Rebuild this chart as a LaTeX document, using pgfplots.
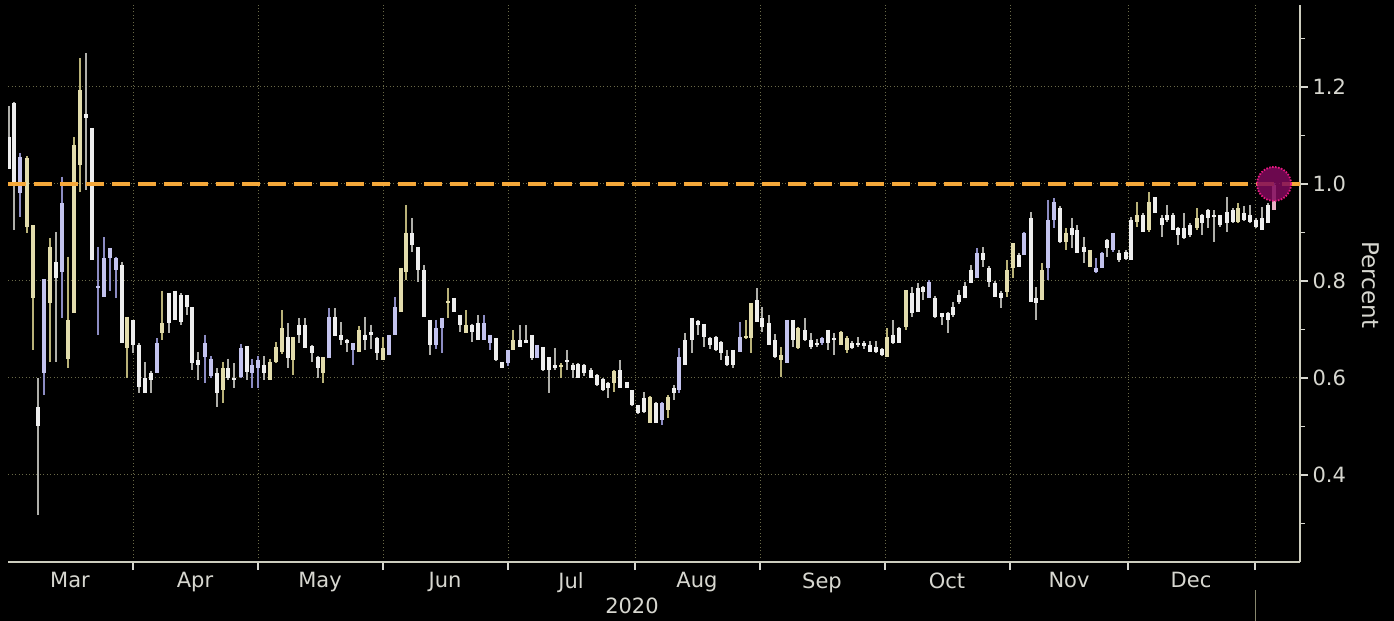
\documentclass[border=0pt]{standalone}
\usepackage{fontspec}
\setmainfont{DejaVu Sans}
\usepackage{pgfplots}
\usepackage{pgfplotstable}
\pgfplotsset{compat=1.18}

\definecolor{tickc}{RGB}{215,215,208}
\definecolor{axisc}{RGB}{205,205,190}
\definecolor{gridc}{RGB}{105,105,72}
\definecolor{orangeline}{RGB}{245,168,58}
\definecolor{body0}{RGB}{238,238,238}
\definecolor{wick0}{RGB}{175,175,170}
\definecolor{body1}{RGB}{226,220,172}
\definecolor{wick1}{RGB}{185,178,120}
\definecolor{body2}{RGB}{195,195,238}
\definecolor{wick2}{RGB}{140,140,195}
\definecolor{body3}{RGB}{235,175,195}
\definecolor{circfill}{RGB}{128,10,92}
\definecolor{circedge}{RGB}{235,25,130}

% x = position along the axis, h/l = high/low, bt/bb = body top/bottom, k = colour class
\pgfplotstableread{
x h l bt bb k
9 1.16 1.03 1.097 1.03 0
14 1.17 0.905 1.167 1.004 0
20 1.064 0.932 1.056 0.981 2
27 1.058 0.899 1.054 0.911 1
33 0.915 0.658 0.915 0.765 1
38 0.60 0.317 0.54 0.50 0
44 0.804 0.565 0.804 0.61 2
50 0.889 0.633 0.87 0.755 1
56 0.901 0.633 0.839 0.806 0
62 1.015 0.724 0.961 0.818 2
68 0.85 0.62 0.72 0.64 1
74 1.097 0.735 1.08 0.735 1
80 1.26 0.983 1.194 1.039 1
86 1.27 0.988 1.144 1.136 0
92 1.115 0.843 1.115 0.843 0
98 0.87 0.689 0.79 0.786 2
104 0.89 0.767 0.847 0.767 2
110 0.868 0.78 0.868 0.847 2
116 0.85 0.765 0.847 0.823 2
122 0.84 0.672 0.833 0.672 0
127 0.726 0.60 0.726 0.662 1
133 0.72 0.652 0.72 0.668 0
139 0.672 0.569 0.668 0.581 0
145 0.633 0.569 0.60 0.569 0
151 0.615 0.569 0.61 0.596 0
157 0.682 0.61 0.672 0.61 2
162 0.78 0.678 0.713 0.693 1
169 0.775 0.693 0.775 0.713 0
175 0.78 0.72 0.78 0.72 0
181 0.775 0.71 0.771 0.716 0
187 0.771 0.73 0.771 0.746 0
192 0.746 0.616 0.746 0.63 0
198 0.654 0.596 0.637 0.627 0
205 0.689 0.59 0.672 0.643 2
211 0.645 0.60 0.64 0.604 2
217 0.62 0.54 0.61 0.569 0
223 0.633 0.548 0.62 0.575 1
228 0.64 0.596 0.62 0.60 0
234 0.63 0.58 0.60 0.596 0
241 0.67 0.60 0.662 0.602 2
247 0.666 0.596 0.666 0.612 0
252 0.64 0.58 0.627 0.61 2
258 0.645 0.58 0.637 0.62 2
264 0.645 0.595 0.627 0.61 0
270 0.64 0.596 0.633 0.596 1
276 0.674 0.63 0.664 0.633 1
282 0.74 0.65 0.703 0.654 1
288 0.713 0.62 0.684 0.641 0
293 0.684 0.606 0.684 0.637 1
299 0.724 0.672 0.709 0.689 0
305 0.724 0.662 0.709 0.662 0
312 0.668 0.633 0.666 0.651 0
318 0.645 0.60 0.643 0.62 0
323 0.643 0.59 0.643 0.61 1
329 0.744 0.641 0.726 0.641 2
335 0.744 0.687 0.726 0.687 0
341 0.715 0.668 0.689 0.678 0
347 0.68 0.653 0.678 0.672 0
353 0.672 0.627 0.672 0.658 2
359 0.707 0.653 0.699 0.653 1
365 0.726 0.658 0.689 0.678 0
371 0.71 0.66 0.695 0.689 0
377 0.684 0.637 0.682 0.651 0
383 0.684 0.637 0.662 0.637 1
389 0.689 0.647 0.689 0.647 2
395 0.767 0.689 0.746 0.689 2
401 0.827 0.736 0.827 0.736 1
406 0.957 0.802 0.899 0.818 1
412 0.93 0.86 0.899 0.874 0
418 0.87 0.798 0.87 0.823 0
424 0.833 0.726 0.823 0.726 0
430 0.72 0.647 0.72 0.668 0
436 0.72 0.66 0.703 0.668 2
442 0.724 0.651 0.724 0.703 2
448 0.785 0.724 0.759 0.755 1
454 0.765 0.736 0.765 0.736 0
460 0.73 0.695 0.73 0.71 0
466 0.74 0.693 0.709 0.693 1
472 0.712 0.674 0.709 0.695 0
478 0.73 0.678 0.713 0.678 0
484 0.73 0.678 0.713 0.678 2
490 0.689 0.658 0.689 0.672 2
496 0.682 0.635 0.682 0.637 0
502 0.633 0.62 0.633 0.62 0
508 0.658 0.625 0.658 0.631 2
513 0.699 0.658 0.678 0.658 1
520 0.709 0.664 0.678 0.664 0
526 0.709 0.672 0.678 0.672 0
532 0.689 0.638 0.689 0.641 0
537 0.668 0.641 0.668 0.641 2
543 0.664 0.614 0.664 0.616 0
549 0.643 0.569 0.643 0.616 0
555 0.662 0.616 0.627 0.62 0
561 0.631 0.60 0.627 0.623 1
567 0.658 0.616 0.637 0.633 0
573 0.63 0.60 0.627 0.616 0
578 0.63 0.60 0.629 0.60 0
584 0.628 0.605 0.627 0.61 0
591 0.62 0.60 0.616 0.60 0
597 0.608 0.583 0.606 0.585 0
603 0.60 0.573 0.598 0.575 0
608 0.592 0.559 0.59 0.579 0
614 0.616 0.571 0.614 0.59 1
620 0.637 0.579 0.616 0.579 0
627 0.592 0.579 0.592 0.579 0
632 0.575 0.542 0.575 0.544 0
638 0.544 0.526 0.544 0.528 0
644 0.571 0.528 0.559 0.53 0
650 0.563 0.507 0.561 0.507 1
656 0.55 0.507 0.548 0.507 0
662 0.55 0.503 0.548 0.513 2
668 0.565 0.517 0.561 0.534 1
674 0.585 0.555 0.579 0.569 0
679 0.662 0.569 0.643 0.575 2
685 0.693 0.627 0.678 0.627 0
692 0.724 0.651 0.724 0.678 0
698 0.72 0.689 0.718 0.709 0
704 0.711 0.664 0.711 0.684 0
710 0.684 0.66 0.682 0.668 0
716 0.686 0.655 0.684 0.658 0
721 0.676 0.637 0.674 0.651 0
727 0.658 0.625 0.645 0.627 0
733 0.658 0.62 0.658 0.627 0
740 0.715 0.653 0.684 0.653 2
746 0.72 0.68 0.686 0.682 1
751 0.755 0.651 0.755 0.682 1
757 0.785 0.715 0.761 0.715 0
762 0.746 0.695 0.724 0.705 0
769 0.73 0.668 0.713 0.668 0
775 0.69 0.641 0.678 0.643 0
781 0.664 0.602 0.647 0.637 1
787 0.72 0.631 0.72 0.631 2
793 0.72 0.664 0.72 0.678 0
798 0.705 0.66 0.703 0.662 1
805 0.724 0.676 0.699 0.678 0
811 0.693 0.66 0.678 0.664 0
817 0.68 0.664 0.672 0.668 0
822 0.685 0.668 0.682 0.672 2
828 0.699 0.658 0.699 0.672 0
834 0.693 0.647 0.682 0.678 0
841 0.697 0.668 0.695 0.668 1
847 0.686 0.651 0.682 0.658 1
852 0.676 0.66 0.672 0.662 0
858 0.684 0.664 0.672 0.668 0
864 0.676 0.66 0.672 0.666 0
870 0.676 0.653 0.668 0.653 0
876 0.676 0.651 0.664 0.653 0
882 0.662 0.645 0.66 0.647 0
887 0.703 0.643 0.684 0.643 1
893 0.72 0.67 0.689 0.672 0
899 0.705 0.672 0.703 0.672 0
906 0.781 0.699 0.781 0.705 1
912 0.788 0.726 0.775 0.734 0
918 0.796 0.736 0.785 0.736 0
923 0.79 0.761 0.788 0.777 0
929 0.802 0.765 0.798 0.765 2
935 0.77 0.724 0.765 0.726 0
942 0.734 0.709 0.734 0.726 0
948 0.736 0.693 0.734 0.72 0
953 0.757 0.726 0.746 0.73 0
959 0.781 0.752 0.771 0.757 0
965 0.798 0.765 0.79 0.765 0
971 0.833 0.796 0.823 0.796 0
977 0.868 0.806 0.858 0.806 2
983 0.87 0.829 0.858 0.843 0
989 0.83 0.788 0.827 0.798 0
995 0.80 0.767 0.796 0.767 0
1001 0.78 0.744 0.775 0.765 0
1007 0.843 0.767 0.823 0.777 1
1013 0.878 0.806 0.878 0.827 1
1019 0.857 0.829 0.854 0.829 0
1024 0.901 0.854 0.899 0.854 2
1031 0.942 0.757 0.93 0.757 0
1036 0.788 0.72 0.765 0.755 0
1042 0.837 0.761 0.823 0.761 1
1048 0.967 0.802 0.926 0.827 2
1054 0.971 0.91 0.963 0.926 2
1060 0.955 0.878 0.95 0.88 0
1066 0.909 0.864 0.899 0.88 1
1072 0.93 0.868 0.909 0.895 0
1077 0.915 0.858 0.905 0.858 0
1084 0.891 0.837 0.87 0.86 0
1090 0.864 0.829 0.864 0.829 1
1096 0.847 0.816 0.827 0.818 2
1102 0.86 0.827 0.858 0.827 2
1107 0.887 0.85 0.885 0.868 0
1113 0.899 0.86 0.899 0.864 2
1119 0.864 0.839 0.858 0.843 0
1126 0.864 0.843 0.86 0.845 0
1131 0.932 0.843 0.926 0.843 0
1137 0.963 0.911 0.936 0.922 1
1143 0.94 0.901 0.936 0.901 0
1149 0.983 0.901 0.963 0.905 1
1155 0.973 0.94 0.973 0.94 0
1162 0.936 0.891 0.93 0.915 0
1167 0.957 0.922 0.936 0.926 0
1173 0.94 0.905 0.936 0.905 0
1178 0.912 0.874 0.909 0.895 0
1184 0.94 0.887 0.909 0.889 0
1190 0.92 0.89 0.915 0.895 0
1197 0.95 0.905 0.93 0.909 1
1202 0.938 0.895 0.936 0.92 0
1208 0.948 0.91 0.946 0.93 0
1214 0.946 0.88 0.936 0.932 0
1220 0.936 0.912 0.936 0.915 0
1227 0.973 0.901 0.942 0.92 0
1233 0.95 0.92 0.946 0.922 0
1238 0.961 0.92 0.95 0.922 1
1244 0.955 0.924 0.94 0.926 0
1250 0.957 0.92 0.936 0.922 0
1256 0.93 0.909 0.926 0.911 0
1262 0.953 0.905 0.93 0.905 0
1268 0.961 0.92 0.957 0.92 0
1274 1.002 0.946 0.998 0.946 3
}\candles

\newcommand{\lbl}{\fontsize{21bp}{24bp}\selectfont}

\begin{document}
\begin{tikzpicture}
\useasboundingbox (0,0) rectangle (1394bp,621bp);
\fill[black] (0,0) rectangle (1394bp,621bp);
\begin{axis}[
  at={(8bp,59bp)}, anchor=south west,
  scale only axis, width=1292bp, height=557bp,
  xmin=8, xmax=1300, ymin=0.2206, ymax=1.369,
  axis x line*=bottom, axis y line*=right,
  axis line style={draw=axisc, line width=1.5bp},
  xtick={133,258,383,508,635,760,885,1010,1128,1255},
  xticklabels={},
  extra x ticks={70,195,320,445,571,697,822,947,1069,1191},
  extra x tick labels={Mar,Apr,May,Jun,Jul,Aug,Sep,Oct,Nov,Dec},
  extra x tick style={grid=none, major tick length=0pt,
    xticklabel style={yshift=-7bp}},
  ytick={0.4,0.6,0.8,1.0,1.2},
  yticklabels={0.4,0.6,0.8,1.0,1.2},
  minor ytick={0.3,0.5,0.7,0.9,1.1,1.3},
  tick align=outside,
  major tick length=8bp, minor tick length=5bp,
  tick style={draw=tickc, line width=1.5bp},
  grid=major,
  major grid style={draw=gridc, line width=1bp, dash pattern=on 1bp off 2.5bp},
  ticklabel style={font=\lbl, text=tickc},
  /pgf/number format/assume math mode=true,
  yticklabel style={anchor=west, xshift=1bp},
]
% wicks
\addplot[draw=none, forget plot, restrict expr to domain={\thisrow{k}}{0:0},
  error bars/.cd, y dir=minus, y explicit, error mark=none,
  error bar style={draw=wick0, line width=1.2bp, solid}]
  table[x=x, y=h, y error expr=\thisrow{h}-\thisrow{l}] {\candles};
\addplot[draw=none, forget plot, restrict expr to domain={\thisrow{k}}{1:1},
  error bars/.cd, y dir=minus, y explicit, error mark=none,
  error bar style={draw=wick1, line width=1.2bp, solid}]
  table[x=x, y=h, y error expr=\thisrow{h}-\thisrow{l}] {\candles};
\addplot[draw=none, forget plot, restrict expr to domain={\thisrow{k}}{2:3},
  error bars/.cd, y dir=minus, y explicit, error mark=none,
  error bar style={draw=wick2, line width=1.2bp, solid}]
  table[x=x, y=h, y error expr=\thisrow{h}-\thisrow{l}] {\candles};
% bodies
\addplot[draw=none, forget plot, restrict expr to domain={\thisrow{k}}{0:0},
  error bars/.cd, y dir=minus, y explicit, error mark=none,
  error bar style={draw=body0, line width=4bp, solid}]
  table[x=x, y=bt, y error expr=\thisrow{bt}-\thisrow{bb}] {\candles};
\addplot[draw=none, forget plot, restrict expr to domain={\thisrow{k}}{1:1},
  error bars/.cd, y dir=minus, y explicit, error mark=none,
  error bar style={draw=body1, line width=4bp, solid}]
  table[x=x, y=bt, y error expr=\thisrow{bt}-\thisrow{bb}] {\candles};
\addplot[draw=none, forget plot, restrict expr to domain={\thisrow{k}}{2:2},
  error bars/.cd, y dir=minus, y explicit, error mark=none,
  error bar style={draw=body2, line width=4bp, solid}]
  table[x=x, y=bt, y error expr=\thisrow{bt}-\thisrow{bb}] {\candles};
\addplot[draw=none, forget plot, restrict expr to domain={\thisrow{k}}{3:3},
  error bars/.cd, y dir=minus, y explicit, error mark=none,
  error bar style={draw=body3, line width=4bp, solid}]
  table[x=x, y=bt, y error expr=\thisrow{bt}-\thisrow{bb}] {\candles};
% 1.0 level
\addplot[orangeline, line width=4bp, dash pattern=on 18bp off 8bp, forget plot]
  coordinates {(8,1.0) (1300,1.0)};
% highlight of the last value
\addplot[only marks, mark=*, mark size=17bp, forget plot,
  mark options={fill=circfill, fill opacity=0.85, draw=circedge, line width=1.8bp,
  dash pattern=on 1.5bp off 1.5bp}]
  coordinates {(1274,1.0)};
\end{axis}
\node[rotate=-90, text=tickc, font=\fontsize{23bp}{26bp}\selectfont] at (1371bp,336bp) {Percent};
\node[text=tickc, font=\lbl] at (632bp,15bp) {2020};
\draw[draw=gridc!80!white, line width=1bp] (1255bp,0) -- (1255bp,31bp);
\end{tikzpicture}
\end{document}
